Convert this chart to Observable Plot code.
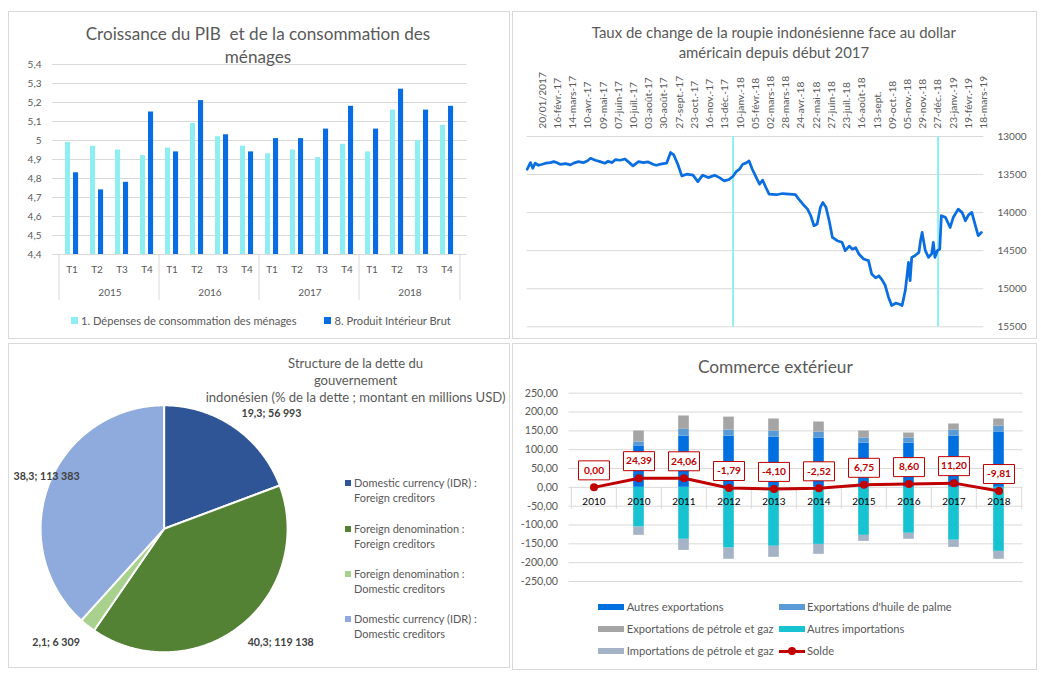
<!DOCTYPE html>
<html><head><meta charset="utf-8">
<script src="https://cdn.jsdelivr.net/npm/d3@7"></script>
<script src="https://cdn.jsdelivr.net/npm/@observablehq/plot@0.6"></script>
<style>
html,body{margin:0;padding:0;background:#fff;}
body{width:1041px;height:678px;position:relative;overflow:hidden;font-family:Lato,sans-serif;}
.frame{position:absolute;box-sizing:border-box;border:1px solid #d9d9d9;}
.t{position:absolute;white-space:pre;line-height:1;font-family:Lato,sans-serif;color:#595959;}
.sw{position:absolute;}
</style></head><body>
<script>
// ---------------- DATA ----------------
// Panel 1 : Croissance du PIB et de la consommation des ménages
const pibYears = [2015, 2016, 2017, 2018];
const pibQuarters = ["T1", "T2", "T3", "T4"];
const pibTicks = [4.4, 4.5, 4.6, 4.7, 4.8, 4.9, 5.0, 5.1, 5.2, 5.3, 5.4];
const consoValues = [4.99, 4.97, 4.95, 4.92, 4.96, 5.09, 5.02, 4.97, 4.93, 4.95, 4.91, 4.98, 4.94, 5.16, 5.00, 5.08];
const pibValues   = [4.83, 4.74, 4.78, 5.15, 4.94, 5.21, 5.03, 4.94, 5.01, 5.01, 5.06, 5.18, 5.06, 5.27, 5.16, 5.18];
const pibSeries = ["1. Dépenses de consommation des ménages", "8. Produit Intérieur Brut"];

// Panel 2 : Taux de change IDR / USD (trading-day index since start of 2017)
const rateDays = [0,4,7,10,14,19,23,29,33,37,41,48,54,58,64,70,75,79,85,91,97,101,106,110,116,122,126,132,139,145,151,157,161,168,174,179,183,188,193,199,207,213,219,226,234,240,246,252,257,261,265,269,273,277,281,286,290,294,298,302,311,319,327,335,339,346,350,354,358,362,366,369,373,377,381,387,393,397,402,406,410,414,420,426,430,435,439,443,447,451,455,460,464,468,472,476,478,480,484,489,491,493,497,501,505,507,509,512,515,517,522,528,532,538,543,547,551,555,559,563,567];
const rateValues = [13430,13343,13417,13351,13378,13365,13351,13343,13330,13343,13365,13356,13373,13350,13330,13343,13321,13286,13312,13330,13351,13325,13343,13304,13312,13295,13330,13386,13330,13343,13334,13365,13378,13360,13351,13210,13242,13365,13517,13495,13508,13592,13508,13540,13508,13540,13583,13565,13522,13461,13430,13365,13350,13321,13430,13540,13627,13574,13670,13757,13765,13749,13757,13765,13823,13910,13954,14041,14172,14150,13932,13867,13930,14107,14326,14369,14390,14500,14440,14480,14460,14543,14610,14631,14805,14857,14830,14884,14958,15111,15220,15190,15200,15220,15024,14653,14893,14588,14566,14522,14369,14260,14500,14588,14540,14391,14588,14500,14480,14041,14060,14195,14060,13954,14000,14107,14030,13997,14150,14303,14260];
const rateTicks = [13000, 13500, 14000, 14500, 15000, 15500];
const dateLabels = ["20/01/2017","16-févr.-17","14-mars-17","10-avr.-17","09-mai-17","07-juin-17","10-juil.-17","03-août-17","30-août-17","27-sept.-17","23-oct.-17","16-nov.-17","13-déc.-17","10-janv.-18","05-févr.-18","02-mars-18","28-mars-18","24-avr.-18","22-mai-18","27-juin-18","23-juil.-18","16-août-18","13-sept.","09-oct.-18","05-nov.-18","29-nov.-18","27-déc.-18","23-janv.-19","19-févr.-19","18-mars-19"];
const dateLabelStep = 19;          // one label every 19 trading days
const yearStartDays = [257, 513];  // 1st trading day of 2018 and 2019
const rateLastDay = 570;

// Panel 3 : Structure de la dette
const pieNames = ["Domestic currency (IDR) : Foreign creditors", "Foreign denomination : Foreign creditors", "Foreign denomination : Domestic creditors", "Domestic currency (IDR) : Domestic creditors"];
const pieLegendLines = [["Domestic currency (IDR) :", "Foreign creditors"], ["Foreign denomination :", "Foreign creditors"], ["Foreign denomination :", "Domestic creditors"], ["Domestic currency (IDR) :", "Domestic creditors"]];
const piePct = [19.3, 40.3, 2.1, 38.3];
const pieAmount = [56993, 119138, 6309, 113383];

// Panel 4 : Commerce extérieur
const tradeYears = ["2010", "2010", "2011", "2012", "2013", "2014", "2015", "2016", "2017", "2018"];
const autresExport = [0, 110, 136, 136, 133.5, 131, 117.5, 117.5, 136, 147];
const palmeExport  = [0, 10.5, 18, 16.3, 16, 15.8, 13.5, 13.5, 16.3, 15.5];
const gazExport    = [0, 29, 35.5, 34.2, 32, 26.7, 18.5, 13.3, 16, 19];
const autresImport = [0, -105.5, -138, -161.3, -156.5, -151.5, -127.5, -122, -140.5, -170];
const gazImport    = [0, -21.9, -29.4, -29.7, -29.3, -26.3, -15.9, -15.8, -18.9, -21];
const solde        = [0, 24.39, 24.06, -1.79, -4.10, -2.52, 6.75, 8.60, 11.20, -9.81];
const tradeTicks = [-250, -200, -150, -100, -50, 0, 50, 100, 150, 200, 250];
const tradeSeries = ["Autres exportations", "Exportations d'huile de palme", "Exportations de pétrole et gaz", "Autres importations", "Importations de pétrole et gaz"];

// ---------------- STYLE ----------------
const FONT = "Lato";
const GRID = "#d9d9d9", TXT = "#595959";
const C_CONSO = "#8eeef2", C_PIB = "#0a6ce2";
const C_RATE = "#0a6ee0", C_CYAN = "#8eeef2";
const pieColors = ["#2f5597", "#548235", "#a9d18e", "#8faadc"];
const tradeColors = ["#0070e0", "#5b9bd5", "#a5a5a5", "#17c3d0", "#a5b3c6"];
const C_SOLDE = "#c00000";

const cv = document.createElement("canvas").getContext("2d");
function textW(text, size, weight = 400) { cv.font = `${weight} ${size}px ${FONT}`; return cv.measureText(text).width; }
function fit(text, width, weight = 400) { return 100 * width / textW(text, 100, weight); }
function txt(text, x, y, size, o = {}) {
  const d = document.createElement("div");
  d.className = "t"; d.textContent = text;
  const tx = o.anchor === "start" ? "0" : o.anchor === "end" ? "-100%" : "-50%";
  d.style.cssText += `left:${x}px;top:${y}px;font-size:${size}px;font-weight:${o.weight || 400};color:${o.color || TXT};transform:translate(${tx},-50%);`;
  document.body.appendChild(d);
}
function box(cls, x, y, w, h, bg) {
  const d = document.createElement("div"); d.className = cls;
  d.style.cssText += `left:${x}px;top:${y}px;width:${w}px;height:${h}px;` + (bg ? `background:${bg};` : "");
  document.body.appendChild(d); return d;
}
function place(svg, left, top) {
  svg.style.position = "absolute"; svg.style.left = left + "px"; svg.style.top = top + "px"; svg.style.overflow = "visible";
  document.body.appendChild(svg);
}
const frDec = (d) => String(Math.round(d * 10) / 10).replace(".", ",");
const fr2 = (d) => d.toFixed(2).replace(".", ",");
const thousands = (n) => String(n).replace(/\B(?=(\d{3})+(?!\d))/g, " ");

// panel frames
box("frame", 8, 11, 502, 328);
box("frame", 512, 11, 525, 328);
box("frame", 8, 343, 502, 325);
box("frame", 512, 343, 525, 327);

// ---------------- PANEL 1 ----------------
{
  const keys = pibYears.flatMap((y) => pibQuarters.map((q) => `${y} ${q}`));
  const data = keys.map((k, i) => ({key: k, q: k.split(" ")[1], conso: consoValues[i], pib: pibValues[i]}));
  const yMin = pibTicks[0], yMax = pibTicks[pibTicks.length - 1];
  const W = 501, H = 310, L = 44, R = 42.5;
  const bw = (W - L - R) / keys.length;
  const fs = fit("2015", 23.3);
  const plot = Plot.plot({
    width: W, height: H, marginLeft: L, marginRight: R, marginTop: 53, marginBottom: H - 243,
    style: {fontFamily: FONT, fontSize: fs + "px", color: TXT, background: "transparent"},
    x: {domain: keys, padding: 0, axis: null},
    y: {domain: [yMin, yMax], ticks: 10, tickSize: 0, tickPadding: 11, tickFormat: frDec, label: null},
    marks: [
      Plot.ruleY(pibTicks, {stroke: GRID, strokeWidth: 1}),
      Plot.barY(data, {x: "key", y1: () => yMin, y2: "conso", fill: C_CONSO, insetLeft: 6, insetRight: bw - 12}),
      Plot.barY(data, {x: "key", y1: () => yMin, y2: "pib", fill: C_PIB, insetLeft: 14, insetRight: bw - 20}),
      Plot.text(data, {x: "key", y: () => yMin, text: "q", dy: 15, fill: TXT}),
      Plot.text(pibYears, {x: (y) => `${y} T2`, y: () => yMin, text: (y) => String(y), dx: bw / 2, dy: 38, fill: TXT}),
      Plot.ruleX(pibYears, {x: (y) => `${y} T1`, y1: () => yMin, y2: () => yMin, dx: -bw / 2, insetBottom: -46, stroke: GRID}),
      Plot.ruleX(pibYears.slice(-1), {x: (y) => `${y} T4`, y1: () => yMin, y2: () => yMin, dx: bw / 2, insetBottom: -46, stroke: GRID})
    ]
  });
  place(plot, 8, 11);
  const tl1 = "Croissance du PIB  et de la consommation des";
  const ts = fit(tl1, 345);
  txt(tl1, 258, 34, ts);
  txt("ménages", 258, 57, ts);
  const ls = fit(pibSeries[0], 216);
  box("sw", 71, 316.5, 7, 7, C_CONSO);
  txt(pibSeries[0], 81, 320.5, ls, {anchor: "start"});
  box("sw", 324, 316.5, 7, 7, C_PIB);
  txt(pibSeries[1], 334.5, 320.5, ls, {anchor: "start"});
}

// ---------------- PANEL 2 ----------------
{
  const data = rateDays.map((d, i) => ({day: d, rate: rateValues[i]}));
  const W = 525, H = 327;
  const fsY = fit("13000", 29);
  const fsX = fit("20/01/2017", 56.7);
  const plot = Plot.plot({
    width: W, height: H, marginLeft: 14.7, marginRight: W - 471.3, marginTop: 125, marginBottom: H - 315.3,
    style: {fontFamily: FONT, fontSize: fsY + "px", color: TXT, background: "transparent"},
    x: {domain: [0, rateLastDay], axis: null},
    y: {domain: [rateTicks[0], rateTicks[rateTicks.length - 1]], reverse: true, axis: "right", ticks: 5, tickSize: 0, tickPadding: 13.7, tickFormat: (d) => String(d), label: null},
    marks: [
      Plot.ruleY(rateTicks, {stroke: GRID}),
      Plot.ruleX(yearStartDays, {stroke: C_CYAN, strokeWidth: 2}),
      Plot.line(data, {x: "day", y: "rate", stroke: C_RATE, strokeWidth: 2.75, strokeLinejoin: "round"}),
      Plot.text(dateLabels, {x: (d, i) => dateLabelStep * (i + 1), y: () => rateTicks[0], text: (d) => d, rotate: -90, textAnchor: "start", dy: -7.7, fontSize: fsX, fill: TXT})
    ]
  });
  place(plot, 512, 11);
  const l1 = "Taux de change de la roupie indonésienne face au dollar";
  const ts = fit(l1, 364.6);
  txt(l1, 773.9, 32, ts);
  txt("américain depuis début 2017", 773.9, 51.5, ts);
}

// ---------------- PANEL 3 ----------------
{
  const cx = 155.6, cy = 185.3, r = 123.5; // relative to panel origin (8,343)
  const arcs = d3.pie().sort(null)(piePct);
  const pts = arcs.flatMap((a, i) => {
    const name = pieNames[i];
    const out = [{name, x: 0, y: 0}];
    const n = Math.max(2, Math.ceil((a.endAngle - a.startAngle) / 0.01));
    for (let k = 0; k <= n; k++) {
      const t = a.startAngle + (a.endAngle - a.startAngle) * k / n;
      out.push({name, x: Math.sin(t), y: Math.cos(t)});
    }
    return out;
  });
  const fsL = fit("19,3; 56 993", 60, 700);
  const leftLimit = (13 - 8 - cx) / r;
  const labels = arcs.map((a, i) => {
    const text = `${frDec(piePct[i])}; ${thousands(pieAmount[i])}`;
    const mid = (a.startAngle + a.endAngle) / 2;
    const px = Math.sin(mid) * 1.1, py = Math.cos(mid) * 1.1;
    const w = textW(text, fsL, 700) / r, h = fsL * 1.0 / r;
    let x = px >= 0 ? px : px - w;
    if (x < leftLimit) x = leftLimit;
    const y = py >= 0 ? py + h / 2 : py - h / 2;
    return {text, x, y};
  });
  const plot = Plot.plot({
    width: 502, height: 325, margin: 0,
    style: {fontFamily: FONT, background: "transparent"},
    x: {domain: [-1, 1], range: [cx - r, cx + r], axis: null},
    y: {domain: [-1, 1], range: [cy + r, cy - r], axis: null},
    color: {domain: pieNames, range: pieColors},
    marks: [
      Plot.line(pts, {x: "x", y: "y", z: "name", fill: "name", stroke: "white", strokeWidth: 2, curve: "linear-closed"}),
      Plot.text(labels, {x: "x", y: "y", text: "text", textAnchor: "start", dy: 1.5, fontSize: fsL, fontWeight: 700, fill: "#404040"})
    ]
  });
  place(plot, 8, 343);
  const t3 = "indonésien (% de la dette ; montant en millions USD)";
  const ts = fit(t3, 300);
  txt("Structure de la dette du", 355.6, 363.5, ts);
  txt("gouvernement", 355.6, 381, ts);
  txt(t3, 355.6, 398.3, ts);
  const lg = fit("Domestic currency (IDR) :", 123);
  const rows = [483.3, 529, 574.3, 619];
  pieLegendLines.forEach((lines, i) => {
    box("sw", 344.5, rows[i] - 3, 6, 6, pieColors[i]);
    txt(lines[0], 354, rows[i], lg, {anchor: "start"});
    txt(lines[1], 354, rows[i] + 14.5, lg, {anchor: "start"});
  });
}

// ---------------- PANEL 4 ----------------
{
  const idx = tradeYears.map((d, i) => i);
  const cols = [autresExport, palmeExport, gazExport, autresImport, gazImport];
  const long = idx.flatMap((i) => tradeSeries.map((s, k) => ({i, series: s, value: cols[k][i]})));
  const sol = idx.map((i) => ({i, v: solde[i]}));
  const W = 525, H = 327, L = 56.5, R = W - 510.5;
  const bw = (W - L - R) / idx.length;
  const fsY = fit("250,00", 33.3);
  const fsX = fit("2010", 23.3);
  const fsS = fit("24,39", 26, 700);
  const labelBox = {draw(ctx) { ctx.rect(-15.5, -9.5, 31, 19); }};
  const plot = Plot.plot({
    width: W, height: H, marginLeft: L, marginRight: R, marginTop: 49.7, marginBottom: H - 238,
    style: {fontFamily: FONT, fontSize: fsY + "px", color: TXT, background: "transparent"},
    x: {domain: idx, padding: 0, axis: null},
    y: {domain: [tradeTicks[0], tradeTicks[tradeTicks.length - 1]], ticks: 10, tickSize: 0, tickPadding: 11, tickFormat: fr2, label: null},
    color: {domain: tradeSeries, range: tradeColors},
    marks: [
      Plot.ruleY(tradeTicks, {stroke: GRID}),
      Plot.barY(long, {x: "i", y: "value", fill: "series", z: "series", insetLeft: (bw - 11) / 2, insetRight: (bw - 11) / 2}),
      Plot.ruleX(idx, {x: (d) => d, y1: () => 0, y2: () => 0, dx: -bw / 2, insetBottom: -22, stroke: GRID}),
      Plot.ruleX(idx.slice(-1), {x: (d) => d, y1: () => 0, y2: () => 0, dx: bw / 2, insetBottom: -22, stroke: GRID}),
      Plot.text(idx, {x: (d) => d, y: () => 0, text: (d) => tradeYears[d], dy: 14.5, fontSize: fsX, fill: "#000"}),
      Plot.line(sol, {x: "i", y: "v", stroke: C_SOLDE, strokeWidth: 3}),
      Plot.dot(sol, {x: "i", y: "v", r: 4, fill: C_SOLDE}),
      Plot.dot(sol, {x: "i", y: "v", symbol: labelBox, r: 5, fill: "white", stroke: C_SOLDE, strokeWidth: 1, dy: -17}),
      Plot.text(sol, {x: "i", y: "v", text: (d) => fr2(d.v), dy: -17, fontSize: fsS, fontWeight: 700, fill: C_SOLDE})
    ]
  });
  place(plot, 512, 343);
  txt("Commerce extérieur", 775.3, 366.5, fit("Commerce extérieur", 155));
  const lg = fit("Exportations de pétrole et gaz", 147);
  const slots = [[598.4, 606.7], [778.7, 606.7], [598.4, 629], [778.7, 629], [598.4, 651]];
  tradeSeries.forEach((s, k) => {
    const [x, y] = slots[k];
    box("sw", x, y - 3, 26, 6, tradeColors[k]);
    txt(s, x + 28.3, y, lg, {anchor: "start"});
  });
  box("sw", 778.7, 651 - 1.5, 26, 3, C_SOLDE);
  const dotEl = box("sw", 791.7 - 4, 651 - 4, 8, 8, C_SOLDE); dotEl.style.borderRadius = "50%";
  txt("Solde", 807, 651, lg, {anchor: "start"});
}
</script>
</body></html>
